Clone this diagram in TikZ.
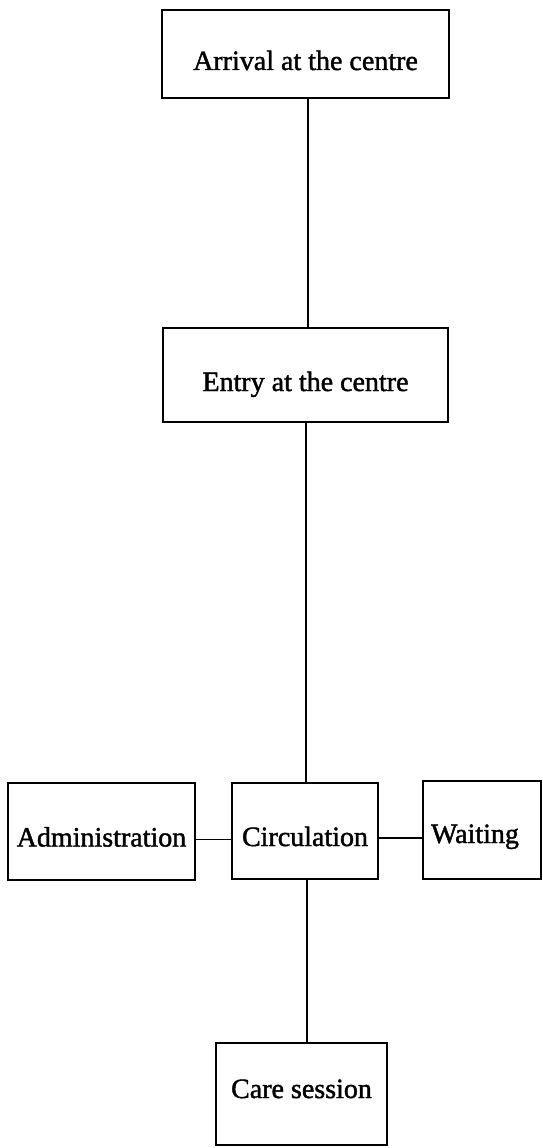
\documentclass[tikz,border=0pt]{standalone}
\usepackage{fontspec}
\setmainfont{Liberation Serif}[BoldFont={Liberation Serif}, BoldFeatures={FakeBold=1.5}]
\newcommand{\lowered}[2]{\raisebox{#1}[0pt][0pt]{#2}}
\begin{document}
\begin{tikzpicture}[x=1pt,y=1pt,
  box/.style={draw=black, line width=1.7pt, inner sep=0pt, font=\fontsize{28}{33}\selectfont\bfseries},
  link/.style={draw=black, line width=1.3pt}]
\useasboundingbox[fill=white] (0,0) rectangle (542,-1148);
\node[box, minimum width=287pt, minimum height=88pt] (arr) at (305.5,-54) {\lowered{-16pt}{Arrival at the centre}};
\node[box, minimum width=285pt, minimum height=94pt] (ent) at (305.5,-375) {\lowered{-16pt}{Entry at the centre}};
\node[box, minimum width=187pt, minimum height=97pt] (adm) at (101.5,-831.5) {\lowered{-15pt}{Administration}};
\node[box, minimum width=146pt, minimum height=96pt] (cir) at (305,-831) {\lowered{-15pt}{Circulation}};
\node[box, minimum width=118pt, minimum height=98pt, text width=102pt, align=left] (wai) at (482,-830) {\lowered{-13pt}{Waiting}};
\node[box, minimum width=171pt, minimum height=102pt] (car) at (301.5,-1094) {\lowered{-4pt}{Care session}};
\draw[link] ([xshift=2.5pt]arr.south) -- ([xshift=2.5pt]arr.south |- ent.north);
\draw[link] ([xshift=0.5pt]ent.south) -- ([xshift=0.5pt]ent.south |- cir.north);
\draw[link] ([xshift=2pt]cir.south) -- ([xshift=2pt]cir.south |- car.north);
\draw[link] ([yshift=-8pt]adm.east) -- ([yshift=-8pt]adm.east -| cir.west);
\draw[link] ([yshift=-7pt]cir.east) -- ([yshift=-7pt]cir.east -| wai.west);
\end{tikzpicture}
\end{document}
